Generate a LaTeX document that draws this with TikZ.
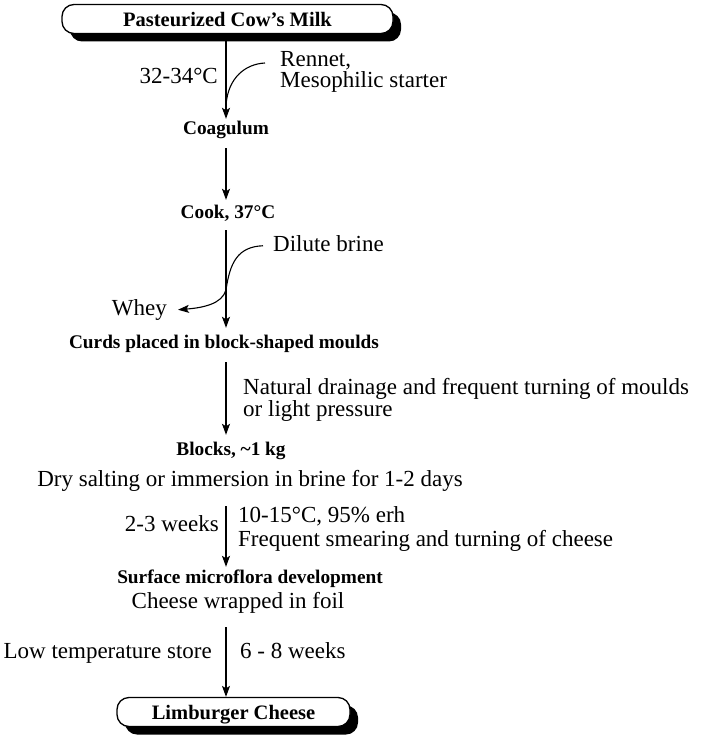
\documentclass[tikz,border=0pt]{standalone}
\usepackage{fontspec}
\setmainfont{Liberation Serif}
\usetikzlibrary{arrows.meta,shadows}
\begin{document}
\begin{tikzpicture}[x=1pt,y=-1pt,
  reg/.style={inner sep=0pt,font=\fontsize{23}{23}\selectfont,text height=15.5pt,text depth=5pt},
  regm/.style={inner sep=0pt,align=left},
  bld/.style={inner sep=0pt,font=\fontsize{19.3}{22}\selectfont\bfseries,text height=13.5pt,text depth=4.5pt},
  endbox/.style={draw,line width=1.3pt,rounded corners=12pt,fill=white,inner sep=0pt,minimum height=29pt,text height=15pt,text depth=0pt,font=\fontsize{20.5}{22}\selectfont\bfseries,drop shadow={shadow xshift=8pt,shadow yshift=-8pt,fill=black,opacity=1}},
  flowarr/.style={line width=1.1pt,-{Stealth[length=11pt,width=8pt,inset=2.5pt]}},
  curveline/.style={line width=1.1pt}]
\useasboundingbox (0,0) rectangle (701,738);
\coordinate (ax) at (226,0);
% main flow
\node[endbox,minimum width=331pt] (milk) at (227.5,19) {Pasteurized Cow’s Milk};
\node[bld,anchor=base] (coag) at (226,135) {Coagulum};
\node[bld,anchor=base] (cook) at (228,218) {Cook, 37°C};
\node[bld,anchor=base] (curds) at (224,348) {Curds placed in block-shaped moulds};
\node[bld,anchor=base] (blocks) at (231,455) {Blocks, \textasciitilde1 kg};
\node[reg,anchor=base] (dry) at (250,486) {Dry salting or immersion in brine for 1-2 days};
\node[bld,anchor=base] (surface) at (250,583) {Surface microflora development};
\node[reg,anchor=base] (wrapped) at (238,608) {Cheese wrapped in foil};
\node[endbox,minimum width=233pt] (cheese) at (233.5,712) {Limburger Cheese};
% side labels
\node[reg,anchor=base east] (temp1) at (218,84) {32-34°C};
\node[regm,anchor=north west,font=\fontsize{23}{21}\selectfont] (rennet) at (280,51) {Rennet,\\Mesophilic starter};
\node[reg,anchor=base west] (brine) at (273,251) {Dilute brine};
\node[reg,anchor=base east] (whey) at (167,315) {Whey};
\node[regm,anchor=north west,font=\fontsize{23}{18.5}\selectfont] (drain) at (243,378.5) {Natural drainage and frequent turning of moulds\\or light pressure};
\node[reg,anchor=base east] (weeks1) at (219,531) {2-3 weeks};
\node[regm,anchor=north west,font=\fontsize{23}{24}\selectfont] (ripen) at (238,506.5) {10-15°C, 95\% erh\\Frequent smearing and turning of cheese};
\node[reg,anchor=base east] (store) at (212,658) {Low temperature store};
\node[reg,anchor=base west] (weeks2) at (240,658) {6 - 8 weeks};
% arrows
\draw[flowarr,shorten >=2.5pt] (milk.south -| ax) -- (coag.north -| ax);
\draw[flowarr,shorten <=8.5pt,shorten >=4.5pt] (coag.south -| ax) -- (cook.north -| ax);
\draw[flowarr,shorten <=7.5pt,shorten >=6.5pt] (cook.south -| ax) -- (curds.north -| ax);
\draw[flowarr,shorten <=9.5pt,shorten >=6.5pt] (curds.south -| ax) -- (blocks.north -| ax);
\draw[flowarr,shorten <=15pt,shorten >=2.5pt] (dry.south -| ax) -- (surface.north -| ax);
\draw[flowarr,shorten <=14pt] (wrapped.south -| ax) -- (cheese.north -| ax);
% additions / removals
\coordinate (j1) at (226,105);
\draw[curveline] ([shift={(-15,12)}]rennet.north west) .. controls +(-20,1) and +(2,-27) .. (j1);
\coordinate (x1) at (226,290);
\draw[curveline,-{Stealth[length=11pt,width=8pt,inset=2.5pt]}] ([xshift=-10pt]brine.west) .. controls +(-25,1) and +(4,-28) .. (x1) .. controls +(-4,14) and +(25,-2) .. ([xshift=11pt]whey.east);
\end{tikzpicture}
\end{document}
